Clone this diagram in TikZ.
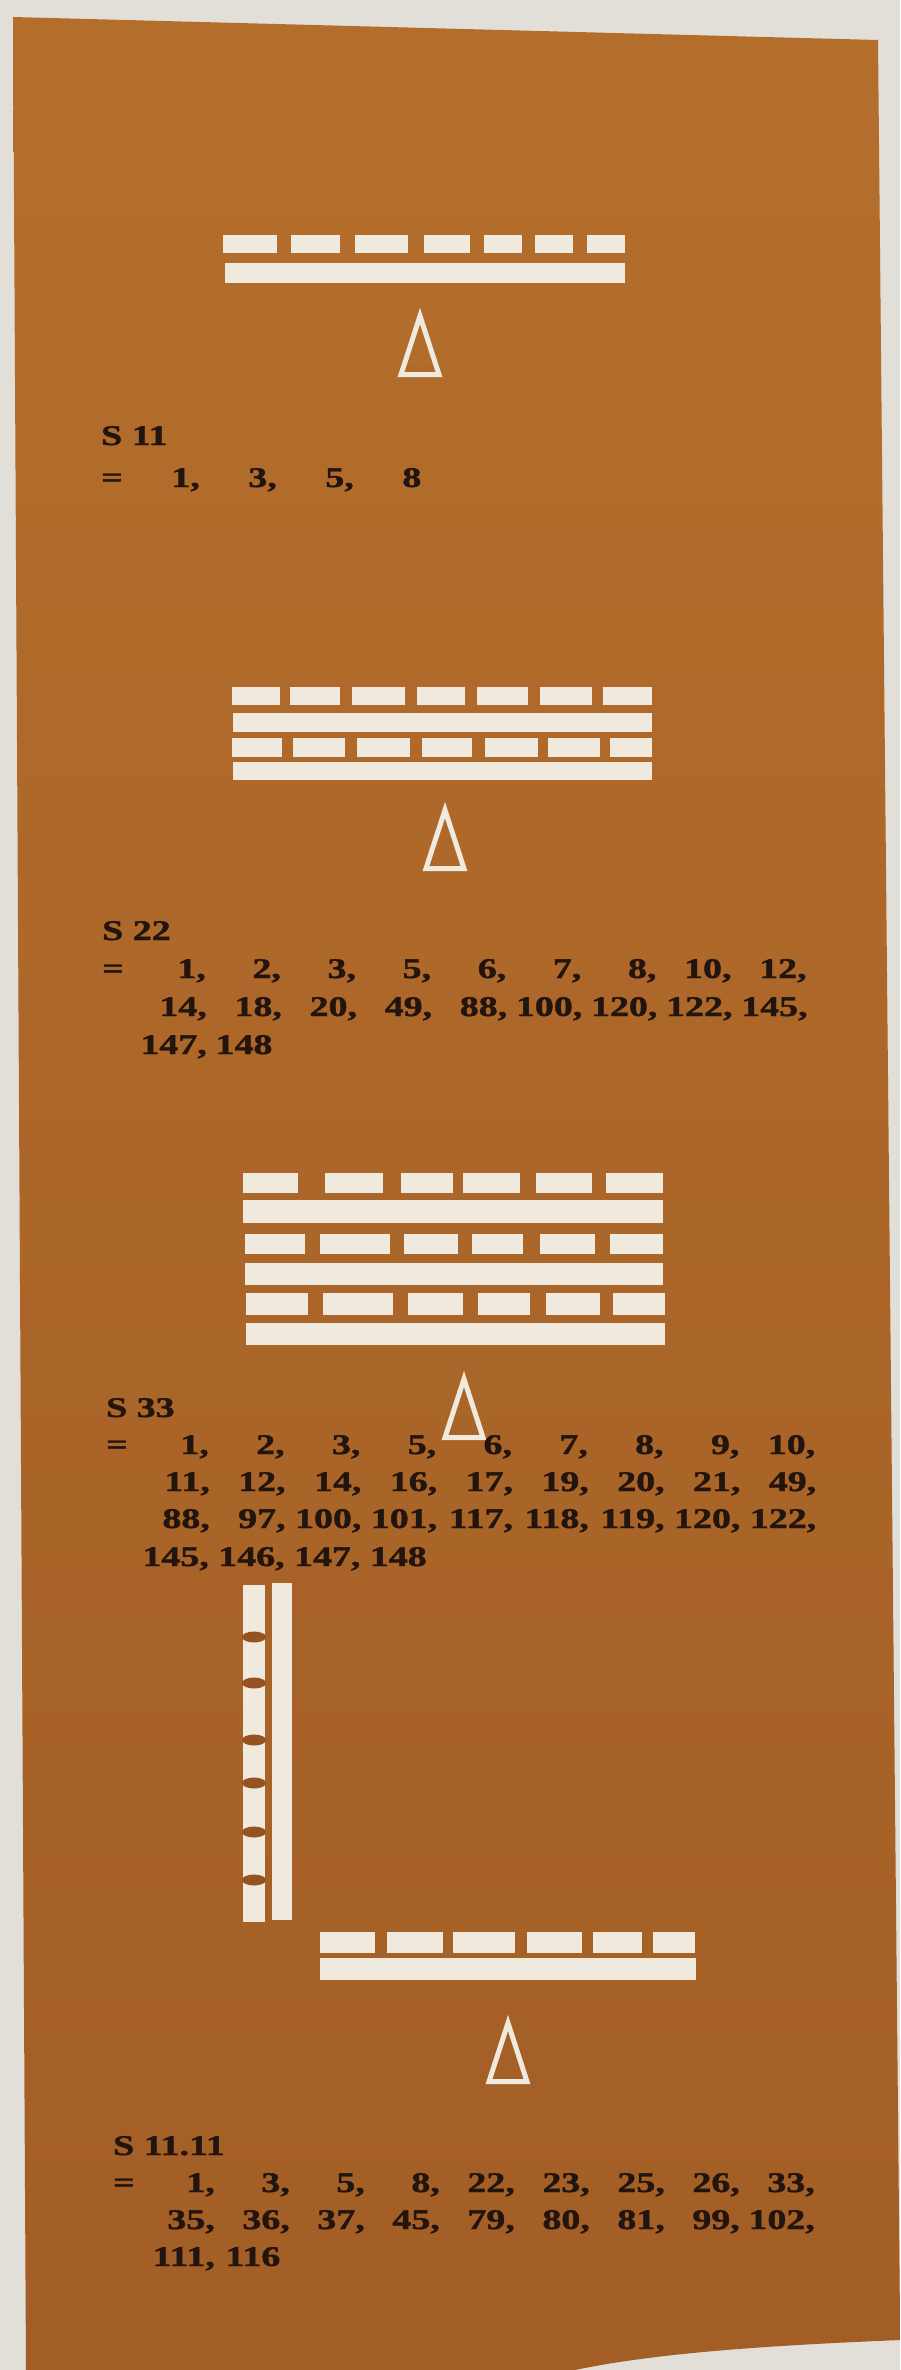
\documentclass[tikz,border=0pt]{standalone}
\usepackage{fontspec}
\setmainfont{Liberation Serif}[BoldFeatures={FakeBold=1.2}]
\usepackage{graphicx}
\definecolor{pagebg}{RGB}{226,223,216}
\definecolor{pantop}{RGB}{180,110,44}
\definecolor{panbot}{RGB}{163,94,38}
\definecolor{notch}{RGB}{150,82,32}
\definecolor{chalk}{RGB}{240,233,222}
\definecolor{ink}{RGB}{34,20,14}
\newcommand\sxs[1]{\scalebox{1.33}[1]{#1}}
\newcommand\cmm{,}
\newcommand\phc{\phantom{,}}
\newcommand\numrow[5]{\foreach \numv [count=\ii from 0] in {#5} {\node[numtxt] (#1-\ii) at ({#3+#4*\ii},#2) {\sxs{\numv}};}}
\begin{document}
\begin{tikzpicture}[x=1pt, y=-1pt,
  numtxt/.style={anchor=base east, inner sep=0pt, text=ink, font=\bfseries\fontsize{28.5}{32}\selectfont},
  ttl/.style={anchor=base west, inner sep=0pt, text=ink, font=\bfseries\fontsize{28.5}{32}\selectfont},
  chalkbox/.style={fill=chalk},
  tri/.style={draw=chalk, line width=5pt, line join=miter},
  wedge/.pic={\draw[tri] (0,9) -- (19,67.5) -- (-19,67.5) -- cycle;}]
\useasboundingbox (0,0) rectangle (900,2370);
\fill[pagebg] (0,0) rectangle (900,2370);
% panel
\shade[top color=pantop, bottom color=panbot]
  (13,17) -- (878,40) -- (900,2320) -- (900,2340)
  .. controls (780,2345) and (660,2352) .. (575,2370) -- (26,2370) -- cycle;

% ---------- diagram S 11 ----------
\foreach \a/\b in {223/277,291/340,355/408,424/470,484/522,535/573,587/625}
  \fill[chalkbox] (\a,235) rectangle (\b,253);
\fill[chalkbox] (225,263) rectangle (625,283);
\pic at (420,307) {wedge};

\node[ttl] (t11) at (101,445) {\sxs{S 11}};
\node[ttl] (e11) at (101,487) {\sxs{=}};
\numrow{r11a}{487}{200}{77}{1\cmm,3\cmm,5\cmm,8\phc}

% ---------- diagram S 22 ----------
\foreach \a/\b in {232/280,290/340,352/405,417/465,477/528,540/592,603/652}
  \fill[chalkbox] (\a,687) rectangle (\b,705);
\fill[chalkbox] (233,713) rectangle (652,732);
\foreach \a/\b in {232/282,293/345,357/410,422/472,485/538,548/600,610/652}
  \fill[chalkbox] (\a,738) rectangle (\b,757);
\fill[chalkbox] (233,762) rectangle (652,780);
\pic at (445,801) {wedge};

\node[ttl] (t22) at (102,940) {\sxs{S 22}};
\node[ttl] (e22) at (102,978) {\sxs{=}};
\numrow{r22a}{978}{206}{75.1}{1\cmm,2\cmm,3\cmm,5\cmm,6\cmm,7\cmm,8\cmm,10\cmm,12\cmm}
\numrow{r22b}{1016}{207}{75.1}{14\cmm,18\cmm,20\cmm,49\cmm,88\cmm,100\cmm,120\cmm,122\cmm,145\cmm}
\numrow{r22c}{1054}{207}{75.1}{147\cmm,148\phc}

% ---------- diagram S 33 ----------
\foreach \a/\b in {243/298,325/383,401/453,463/520,536/592,606/663}
  \fill[chalkbox] (\a,1173) rectangle (\b,1193);
\fill[chalkbox] (243,1200) rectangle (663,1223);
\foreach \a/\b in {245/305,320/390,404/458,472/523,540/595,610/663}
  \fill[chalkbox] (\a,1234) rectangle (\b,1254);
\fill[chalkbox] (245,1263) rectangle (663,1285);
\foreach \a/\b in {246/308,323/393,408/463,478/530,546/600,613/665}
  \fill[chalkbox] (\a,1293) rectangle (\b,1315);
\fill[chalkbox] (246,1323) rectangle (665,1345);
\pic at (464,1370) {wedge};

\node[ttl] (t33) at (106,1417) {\sxs{S 33}};
\node[ttl] (e33) at (106,1454) {\sxs{=}};
\numrow{r33a}{1454}{209}{75.8}{1\cmm,2\cmm,3\cmm,5\cmm,6\cmm,7\cmm,8\cmm,9\cmm,10\cmm}
\numrow{r33b}{1491}{210}{75.8}{11\cmm,12\cmm,14\cmm,16\cmm,17\cmm,19\cmm,20\cmm,21\cmm,49\cmm}
\numrow{r33c}{1528}{210}{75.8}{88\cmm,97\cmm,100\cmm,101\cmm,117\cmm,118\cmm,119\cmm,120\cmm,122\cmm}
\numrow{r33d}{1566}{209}{75.8}{145\cmm,146\cmm,147\cmm,148\phc}

% ---------- diagram S 11.11 ----------
\fill[chalkbox] (243,1585) rectangle (265,1922);
\foreach \c in {1637,1683,1740,1783,1832,1880}
  \fill[notch] (254,\c) ellipse [x radius=12, y radius=5.5];
\fill[chalkbox] (272,1583) rectangle (292,1920);
\foreach \a/\b in {320/375,387/443,453/515,527/582,593/642,653/695}
  \fill[chalkbox] (\a,1932) rectangle (\b,1953);
\fill[chalkbox] (320,1958) rectangle (696,1980);
\pic at (508,2014) {wedge};

\node[ttl] (t1111) at (113,2155) {\sxs{S 11.11}};
\node[ttl] (e1111) at (113,2192) {\sxs{=}};
\numrow{r44a}{2192}{215}{75}{1\cmm,3\cmm,5\cmm,8\cmm,22\cmm,23\cmm,25\cmm,26\cmm,33\cmm}
\numrow{r44b}{2229}{215}{75}{35\cmm,36\cmm,37\cmm,45\cmm,79\cmm,80\cmm,81\cmm,99\cmm,102\cmm}
\numrow{r44c}{2266}{215}{75}{111\cmm,116\phc}
\end{tikzpicture}
\end{document}
